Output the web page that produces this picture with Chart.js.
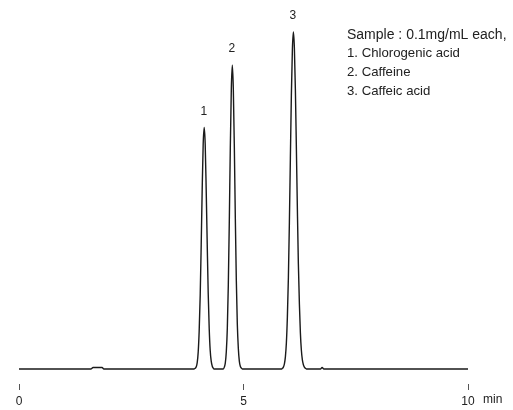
<!DOCTYPE html>
<html>
<head>
<meta charset="utf-8">
<script src="https://cdn.jsdelivr.net/npm/chart.js@4.4.1/dist/chart.umd.min.js"></script>
<style>
  body { margin: 0; background: #fff; }
  #wrap { width: 513px; height: 410px; position: relative; }
</style>
</head>
<body>
<div id="wrap"><canvas id="chrom"></canvas></div>
<script>
// retention time (min) and detector signal
const times = [
  0, 1.60, 1.65, 1.85, 1.89, 3.90,
  3.924, 3.947, 3.969, 3.991, 4.013, 4.036, 4.058, 4.080, 4.102, 4.125,
  4.147, 4.169, 4.192, 4.214, 4.236, 4.258, 4.281, 4.303, 4.325, 4.347,
  4.55, 4.573, 4.595, 4.617, 4.640, 4.662, 4.684, 4.706, 4.729, 4.751,
  4.773, 4.796, 4.818, 4.840, 4.862, 4.885, 4.907, 4.929, 4.952, 4.974,
  5.85, 5.866, 5.888, 5.911, 5.933, 5.955, 5.977, 6.000, 6.022, 6.044, 6.066, 6.089, 6.111,
  6.133, 6.156, 6.178, 6.200, 6.222, 6.245, 6.267, 6.289, 6.311, 6.334, 6.356, 6.378, 6.400,
  6.72, 6.75, 6.79, 10
];
const signal = [
  0, 0, 0.5, 0.5, 0, 0,
  0.2, 0.7, 2.1, 5.6, 12.7, 24.7, 41.3, 59.7, 74.7, 80.3,
  74.7, 59.7, 41.5, 25.2, 13.5, 6.2, 2.6, 1.0, 0.3, 0,
  0, 0.6, 2.0, 5.7, 13.7, 28.1, 49.2, 73.3, 93.3, 101,
  93.3, 73.8, 50.0, 29.5, 15.0, 6.8, 2.6, 0.9, 0.3, 0,
  0, 0.2, 0.6, 1.7, 4.0, 8.7, 17.2, 30.5, 48.7, 70.1, 91.0, 106.3, 112,
  106.8, 92.5, 73.0, 53.0, 35.0, 21.5, 12.0, 6.2, 3.0, 1.4, 0.6, 0.2, 0,
  0, 0.5, 0, 0
];

const peakNumbers = ["1", "2", "3"];
const peakTimes = [4.125, 4.751, 6.111];

const sampleLines = [
  "Sample : 0.1mg/mL each,",
  "1. Chlorogenic acid",
  "2. Caffeine",
  "3. Caffeic acid"
];

const points = times.map((t, i) => ({ x: t, y: signal[i] }));

const annotate = {
  id: "annotate",
  afterDraw(chart) {
    const ctx = chart.ctx;
    const xs = chart.scales.x, ys = chart.scales.y;
    ctx.save();
    ctx.fillStyle = "#222";
    ctx.font = "12px 'Liberation Sans', Arial, sans-serif";
    ctx.textAlign = "center";
    ctx.textBaseline = "middle";
    // peak numbers over each apex
    peakTimes.forEach((pt, i) => {
      let best = null;
      points.forEach(p => {
        if (Math.abs(p.x - pt) < 0.2 && (!best || p.y > best.y)) best = p;
      });
      ctx.fillText(peakNumbers[i], xs.getPixelForValue(best.x) - 0.5, ys.getPixelForValue(best.y) - 16);
    });
    // unit after the last tick
    ctx.textAlign = "left";
    ctx.fillText("min", xs.getPixelForValue(10) + 15, 400);
    // sample description
    sampleLines.forEach((s, i) => {
      ctx.font = (i === 0 ? "14px" : "13.2px") + " 'Liberation Sans', Arial, sans-serif";
      ctx.fillText(s, 347, 35 + i * 18.7);
    });
    ctx.restore();
  }
};

new Chart(document.getElementById("chrom"), {
  type: "line",
  data: {
    datasets: [{
      data: points,
      borderColor: "#1a1a1a",
      borderWidth: 1.4,
      pointRadius: 0,
      fill: false,
      cubicInterpolationMode: "monotone"
    }]
  },
  options: {
    responsive: true,
    maintainAspectRatio: false,
    animation: false,
    layout: { padding: { left: 19, right: 45, top: 20, bottom: -2.4 } },
    plugins: { legend: { display: false }, tooltip: { enabled: false } },
    scales: {
      x: {
        type: "linear",
        min: 0,
        max: 10,
        ticks: {
          stepSize: 5,
          padding: 4,
          color: "#222",
          font: { family: "'Liberation Sans', Arial, sans-serif", size: 12 }
        },
        grid: { drawOnChartArea: false, tickLength: 6, color: "#555" },
        border: { display: false }
      },
      y: { display: false, min: -5, max: 116 }
    }
  },
  plugins: [annotate]
});
</script>
</body>
</html>
